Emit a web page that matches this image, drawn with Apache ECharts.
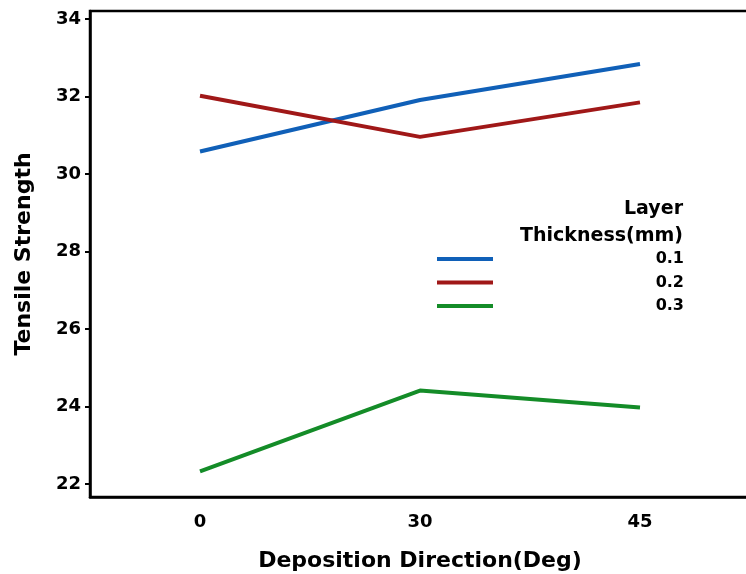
<!DOCTYPE html>
<html>
<head>
<meta charset="utf-8">
<script src="https://cdn.jsdelivr.net/npm/echarts@6/dist/echarts.min.js"></script>
<style>
  html, body { margin: 0; padding: 0; background: #fff; }
  #chart { width: 746px; height: 574px; }
</style>
</head>
<body>
<div id="chart"></div>
<script>
// Deposition direction categories (degrees)
const directions = ['0', '30', '45'];

// Tensile strength for each layer thickness
const thickness01 = [30.58, 31.91, 32.84];
const thickness02 = [32.02, 30.96, 31.85];
const thickness03 = [22.32, 24.41, 23.97];

const seriesNames = ['0.1', '0.2', '0.3'];
const yTicks = [22, 24, 26, 28, 30, 32, 34];

const colors = ['#1060b8', '#a01818', '#148c28'];
const FONT = 'DejaVu Sans';

const chart = echarts.init(document.getElementById('chart'), null, { renderer: 'canvas' });

const lineSeries = [thickness01, thickness02, thickness03].map((vals, i) => ({
  name: seriesNames[i],
  type: 'line',
  data: vals,
  symbol: 'none',
  lineStyle: { width: 4, color: colors[i] },
  itemStyle: { color: colors[i] },
  z: 3
}));

chart.setOption({
  animation: false,
  backgroundColor: '#fff',
  // plot panel runs a little past the right edge of the canvas
  grid: {
    left: 90, width: 660, top: 11, bottom: 77,
    outerBoundsMode: 'none',
    containLabel: false,
    show: true, borderColor: '#000', borderWidth: 2.5,
    backgroundColor: 'transparent'
  },
  xAxis: {
    type: 'category',
    data: directions,
    boundaryGap: true,
    name: 'Deposition Direction(Deg)',
    nameLocation: 'middle',
    nameGap: 53,
    nameTextStyle: { fontFamily: FONT, fontWeight: 'bold', fontSize: 22, color: '#000' },
    axisLine: { lineStyle: { color: '#000', width: 2.5 } },
    axisTick: { alignWithLabel: true, length: 6, lineStyle: { color: '#000', width: 2 } },
    axisLabel: { margin: 16, fontFamily: FONT, fontWeight: 'bold', fontSize: 18, color: '#000' },
    splitLine: { show: false }
  },
  yAxis: {
    type: 'value',
    min: 21.66,
    max: 34.21,
    name: 'Tensile Strength',
    nameLocation: 'middle',
    nameGap: 55,
    nameRotate: 90,
    nameTextStyle: { fontFamily: FONT, fontWeight: 'bold', fontSize: 22, color: '#000' },
    axisLine: { show: true, lineStyle: { color: '#000', width: 2.5 } },
    axisTick: { show: true, length: 5, customValues: yTicks, lineStyle: { color: '#000', width: 2 } },
    axisLabel: { margin: 9, customValues: yTicks, fontFamily: FONT, fontWeight: 'bold', fontSize: 18, color: '#000' },
    splitLine: { show: false }
  },
  legend: {
    orient: 'vertical',
    left: 437,
    top: 251,
    padding: 0,
    icon: 'rect',
    itemWidth: 56,
    itemHeight: 4,
    itemGap: 7.5,
    data: seriesNames,
    formatter: '{t|{name}}',
    textStyle: {
      rich: {
        t: { width: 186, align: 'right', fontFamily: FONT, fontWeight: 'bold', fontSize: 16, color: '#000', lineHeight: 18 }
      }
    }
  },
  graphic: [
    { type: 'text', x: 683, y: 209, style: { text: 'Layer', textAlign: 'right', textVerticalAlign: 'middle', font: 'bold 19px "DejaVu Sans"', fill: '#000' } },
    { type: 'text', x: 683, y: 236, style: { text: 'Thickness(mm)', textAlign: 'right', textVerticalAlign: 'middle', font: 'bold 19px "DejaVu Sans"', fill: '#000' } }
  ],
  series: lineSeries
});
</script>
</body>
</html>
